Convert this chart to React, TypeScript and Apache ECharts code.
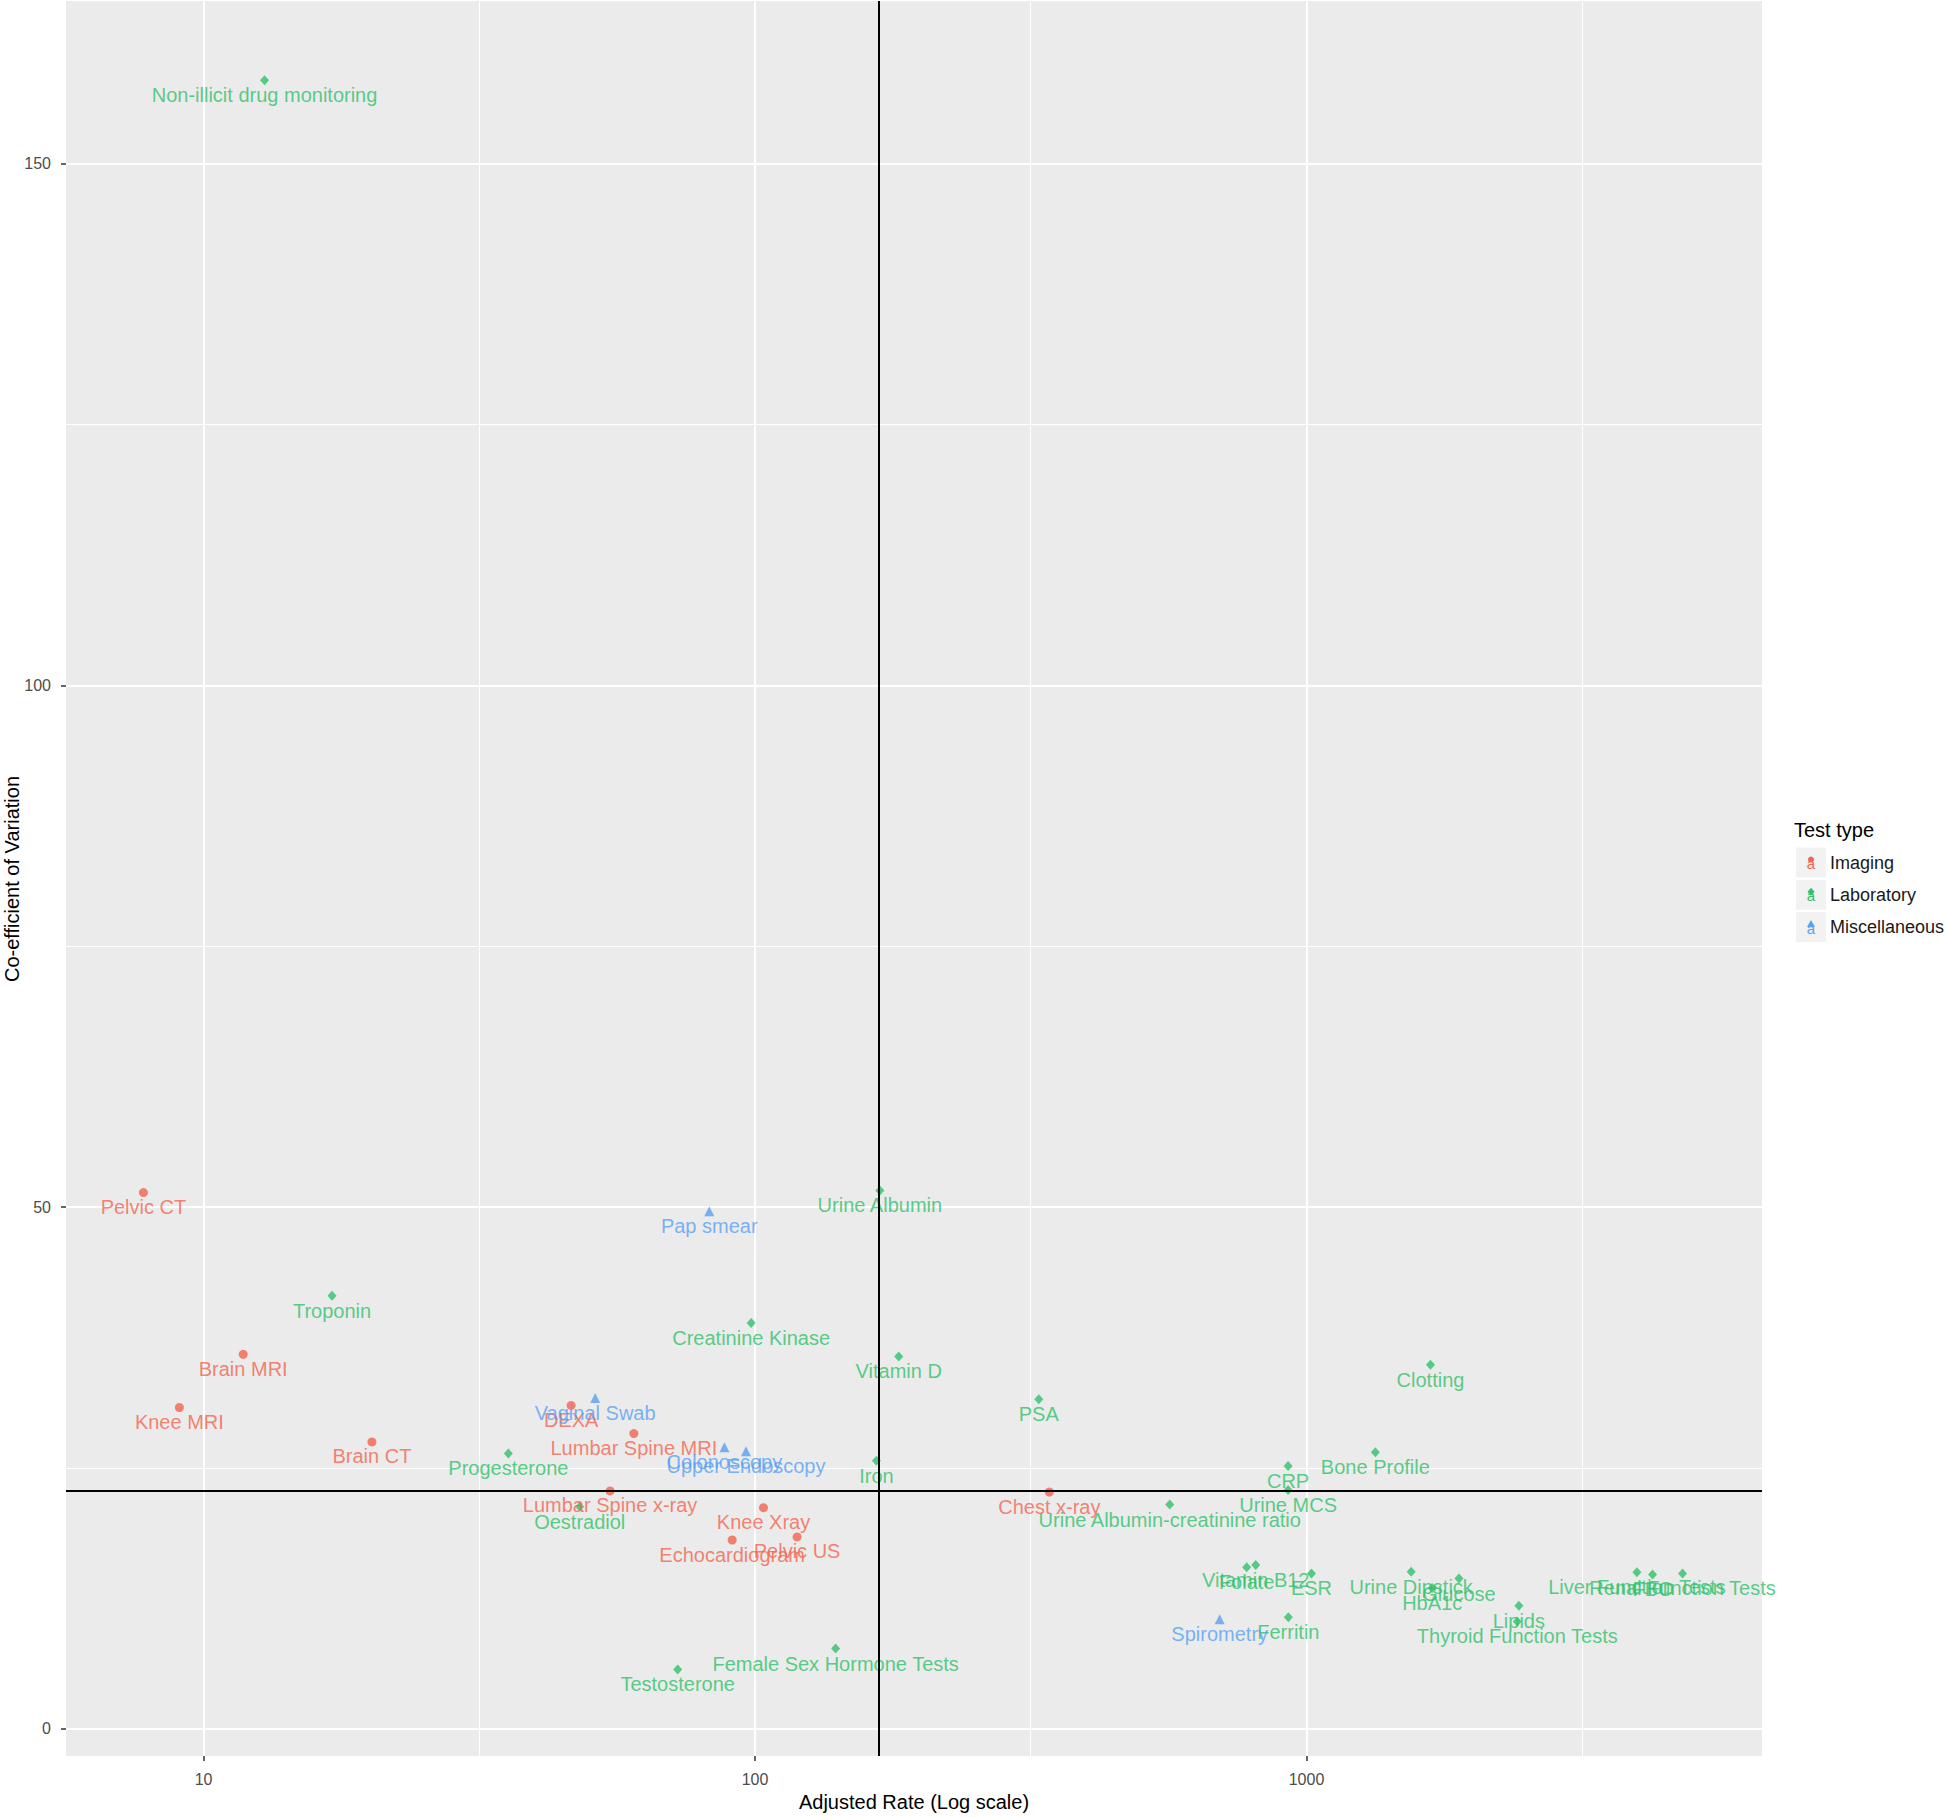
import React, { useEffect, useRef } from "react";
import * as echarts from "echarts";

// ---- Data (Adjusted rate, Co-efficient of variation) ----
const imagingNames = ["Pelvic CT", "Brain MRI", "Knee MRI", "Brain CT", "DEXA", "Lumbar Spine MRI", "Lumbar Spine x-ray", "Knee Xray", "Echocardiogram", "Pelvic US", "Chest x-ray"];
const imagingRate = [7.78, 11.8, 9.04, 20.2, 46.4, 60.3, 54.6, 103.6, 90.9, 119.2, 341.7];
const imagingCV = [51.4, 35.9, 30.8, 27.5, 31.0, 28.3, 22.8, 21.2, 18.1, 18.4, 22.7];

const labNames = ["Non-illicit drug monitoring", "Troponin", "Progesterone", "Oestradiol", "Creatinine Kinase", "Urine Albumin", "Vitamin D", "Iron", "PSA", "Testosterone", "Female Sex Hormone Tests", "Urine Albumin-creatinine ratio", "CRP", "Urine MCS", "Bone Profile", "Clotting", "Folate", "Vitamin B12", "ESR", "Urine Dipstick", "Glucose", "HbA1c", "Lipids", "Thyroid Function Tests", "Ferritin", "Liver Function Tests", "FBC", "Renal Function Tests"];
const labRate = [12.9, 17.1, 35.7, 48.1, 98.4, 168.4, 182.2, 166, 327, 72.4, 140, 565, 926, 926, 1333, 1678, 779, 809, 1021, 1548, 1890, 1690, 2427, 2411, 927, 3973, 4241, 4807];
const labCV = [158.0, 41.5, 26.4, 21.3, 38.9, 51.6, 35.7, 25.7, 31.6, 5.7, 7.7, 21.5, 25.2, 22.9, 26.5, 34.9, 15.5, 15.7, 14.9, 15.05, 14.4, 13.5, 11.8, 10.3, 10.7, 15.0, 14.8, 14.9];

const miscNames = ["Pap smear", "Vaginal Swab", "Colonoscopy", "Upper Endoscopy", "Spirometry"];
const miscRate = [82.6, 51.3, 88.0, 96.3, 696];
const miscCV = [49.6, 31.7, 27.0, 26.6, 10.5];

const medianRate = 167.5;
const medianCV = 22.85;

const xTicks = [10, 100, 1000];
const yTicks = [0, 50, 100, 150];
const xMinor = [31.62, 316.2, 3162];
const yMinor = [25, 75, 125];

const xTitle = "Adjusted Rate (Log scale)";
const yTitle = "Co-efficient of Variation";
const legendTitle = "Test type";
const groups = ["Imaging", "Laboratory", "Miscellaneous"];
const colors = ["#F4644F", "#2EC26A", "#58A0F4"];

const FONT = "'Liberation Sans', Arial, sans-serif";

function toData(names: string[], xs: number[], ys: number[]) {
  return names.map((n, i) => ({ name: n, value: [xs[i], ys[i]] }));
}

export default function App() {
  const ref = useRef<HTMLDivElement>(null);
  useEffect(() => {
    document.body.style.margin = "0";
    const chart = echarts.init(ref.current!, undefined, { renderer: "svg" });

    const mkSeries = (name: string, data: any[], color: string, symbol: string, size: any) => ({
      name,
      type: "scatter",
      data,
      symbol,
      symbolSize: size,
      itemStyle: { color },
      z: 4,
      label: {
        show: true,
        formatter: (p: any) => p.name,
        position: "bottom",
        distance: 0,
        color,
        fontSize: 20,
        fontFamily: FONT,
      },
    });

    const els: any[] = [
      { type: "text", x: 914, y: 1802, style: { text: xTitle, fontSize: 20, fill: "#000", fontFamily: FONT, align: "center", verticalAlign: "middle" } },
      { type: "text", x: 12, y: 879, rotation: Math.PI / 2, style: { text: yTitle, fontSize: 20, fill: "#000", fontFamily: FONT, align: "center", verticalAlign: "middle" } },
      { type: "text", x: 1794, y: 830, style: { text: legendTitle, fontSize: 20, fill: "#000", fontFamily: FONT, align: "left", verticalAlign: "middle" } },
    ];
    groups.forEach((g, i) => {
      const cy = 862.5 + 32.3 * i;
      els.push({ type: "rect", shape: { x: 1796, y: cy - 15, width: 30, height: 30 }, style: { fill: "#F2F2F2" } });
      els.push({ type: "text", x: 1811, y: cy + 1, style: { text: "a", fontSize: 15, fill: colors[i], fontFamily: FONT, align: "center", verticalAlign: "middle" } });
      if (i === 0) els.push({ type: "circle", shape: { cx: 1811, cy: cy - 3, r: 3 }, style: { fill: colors[i] } });
      if (i === 1) els.push({ type: "polygon", shape: { points: [[1811, cy - 7], [1814.5, cy - 3], [1811, cy + 1], [1807.5, cy - 3]] }, style: { fill: colors[i] } });
      if (i === 2) els.push({ type: "polygon", shape: { points: [[1811, cy - 7], [1815, cy], [1807, cy]] }, style: { fill: colors[i] } });
      els.push({ type: "text", x: 1830, y: cy, style: { text: g, fontSize: 18, fill: "#1A1A1A", fontFamily: FONT, align: "left", verticalAlign: "middle" } });
    });

    chart.setOption({
      animation: false,
      backgroundColor: "#FFFFFF",
      textStyle: { fontFamily: FONT },
      grid: { left: 66, right: 184, top: 1, bottom: 61, show: true, backgroundColor: "#EBEBEB", borderWidth: 0, containLabel: false, outerBoundsMode: "none" },
      xAxis: {
        type: "log",
        logBase: 10,
        min: 5.631,
        max: 6698,
        axisLine: { show: false, onZero: false },
        axisTick: { show: true, length: 5, lineStyle: { color: "#333333", width: 1.5 }, customValues: xTicks },
        axisLabel: {
          show: true, margin: 15, fontSize: 16, color: "#4D4D4D", fontFamily: FONT,
          customValues: xTicks,
          formatter: (v: number) => String(Math.round(v)),
        },
        splitLine: { show: true, lineStyle: { color: "#FFFFFF", width: 2 } },
      },
      yAxis: {
        type: "value",
        min: -2.6,
        max: 165.6,
        splitNumber: 4,
        minInterval: 50,
        maxInterval: 50,
        axisLine: { show: false, onZero: false },
        axisTick: { show: true, length: 5, lineStyle: { color: "#333333", width: 1.5 }, customValues: yTicks },
        axisLabel: { show: true, margin: 15, fontSize: 16, color: "#4D4D4D", fontFamily: FONT, customValues: yTicks },
        splitLine: { show: true, lineStyle: { color: "#FFFFFF", width: 2 } },
      },
      series: [
        {
          name: "minor",
          type: "scatter",
          data: [],
          silent: true,
          z: 1,
          markLine: {
            silent: true,
            symbol: "none",
            z: 1,
            label: { show: false },
            lineStyle: { color: "#FFFFFF", width: 1, type: "solid" },
            data: [...xMinor.map((v) => ({ xAxis: v })), ...yMinor.map((v) => ({ yAxis: v }))],
          },
        },
        mkSeries("Imaging", toData(imagingNames, imagingRate, imagingCV), colors[0], "circle", 9),
        mkSeries("Laboratory", toData(labNames, labRate, labCV), colors[1], "diamond", [9, 10]),
        mkSeries("Miscellaneous", toData(miscNames, miscRate, miscCV), colors[2], "triangle", 10),
        {
          name: "median",
          type: "scatter",
          data: [],
          silent: true,
          z: 6,
          markLine: {
            silent: true,
            symbol: "none",
            z: 6,
            label: { show: false },
            lineStyle: { color: "#000000", width: 2, type: "solid" },
            data: [{ xAxis: medianRate }, { yAxis: medianCV }],
          },
        },
      ],
      graphic: els,
    });
    return () => chart.dispose();
  }, []);
  return <div ref={ref} style={{ width: 1946, height: 1817 }} />;
}
